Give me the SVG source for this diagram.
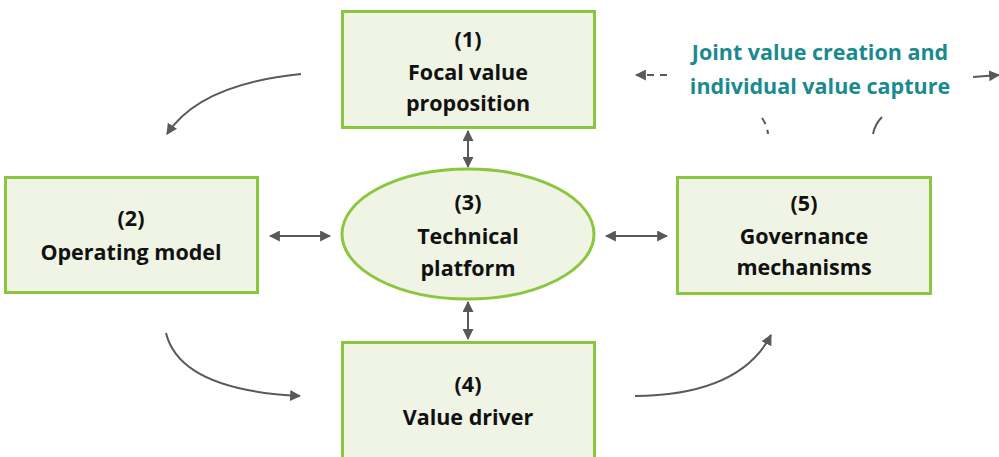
<svg xmlns="http://www.w3.org/2000/svg" width="999" height="457" viewBox="0 0 999 457">
  <style>
    .node { fill: #eff4e5; stroke: #8cc63f; stroke-width: 3; }
    .label { font-family: "Open Sans", "Liberation Sans", sans-serif; font-weight: bold; font-size: 21.5px; fill: #111; text-anchor: middle; }
    .note { font-family: "Open Sans", "Liberation Sans", sans-serif; font-weight: bold; font-size: 21.5px; fill: #1b8a90; text-anchor: middle; }
    .link { fill: none; stroke: #595959; stroke-width: 2; }
    .dash { fill: none; stroke: #595959; stroke-width: 2; stroke-dasharray: 7 6; }
  </style>
  <defs>
    <marker id="head" viewBox="0 0 10 10" refX="9" refY="5" markerWidth="5.5" markerHeight="5.5" orient="auto-start-reverse" markerUnits="strokeWidth">
      <path d="M0,0 L10,5 L0,10 z" fill="#595959"/>
    </marker>
  </defs>

  <!-- connectors -->
  <g id="connectors">
    <!-- double arrows around the platform -->
    <line class="link" x1="468" y1="131" x2="468" y2="167" marker-start="url(#head)" marker-end="url(#head)"/>
    <line class="link" x1="468" y1="302" x2="468" y2="339" marker-start="url(#head)" marker-end="url(#head)"/>
    <line class="link" x1="270" y1="236" x2="330" y2="236" marker-start="url(#head)" marker-end="url(#head)"/>
    <line class="link" x1="606" y1="236" x2="667" y2="236" marker-start="url(#head)" marker-end="url(#head)"/>
    <!-- cycle arrows -->
    <path class="link" d="M301,74 Q200,84 167,134" marker-end="url(#head)"/>
    <path class="link" d="M166,333 Q180,390 300,396" marker-end="url(#head)"/>
    <path class="link" d="M635,396 Q740,395 771,335" marker-end="url(#head)"/>
    <!-- joint value loop fragments -->
    <path class="dash" d="M667,75 L636,75" marker-end="url(#head)"/>
    <path class="dash" d="M762,118 Q767,125 768,134"/>
    <path class="link" d="M873,134 Q875,124 882,117"/>
    <path class="link" d="M973,77 L999,75" marker-end="url(#head)"/>
  </g>

  <!-- (1) focal value proposition -->
  <g id="node1">
    <rect class="node" x="342.5" y="11.5" width="252" height="116"/>
    <text class="label" x="468" y="47">(1)</text>
    <text class="label" x="468" y="80">Focal value</text>
    <text class="label" x="468" y="111">proposition</text>
  </g>

  <!-- (2) operating model -->
  <g id="node2">
    <rect class="node" x="5.5" y="177.5" width="252" height="115"/>
    <text class="label" x="131" y="226">(2)</text>
    <text class="label" x="131" y="260">Operating model</text>
  </g>

  <!-- (3) technical platform -->
  <g id="node3">
    <ellipse class="node" cx="468" cy="234" rx="126" ry="65"/>
    <text class="label" x="468" y="210">(3)</text>
    <text class="label" x="468" y="244">Technical</text>
    <text class="label" x="468" y="276">platform</text>
  </g>

  <!-- (4) value driver -->
  <g id="node4">
    <rect class="node" x="342.5" y="342.5" width="252" height="130"/>
    <text class="label" x="468" y="392">(4)</text>
    <text class="label" x="468" y="425">Value driver</text>
  </g>

  <!-- (5) governance mechanisms -->
  <g id="node5">
    <rect class="node" x="677.5" y="177.5" width="253" height="116"/>
    <text class="label" x="804" y="211">(5)</text>
    <text class="label" x="804" y="244">Governance</text>
    <text class="label" x="804" y="275">mechanisms</text>
  </g>

  <!-- loop caption -->
  <g id="caption">
    <text class="note" x="820" y="60">Joint value creation and</text>
    <text class="note" x="820" y="94">individual value capture</text>
  </g>
</svg>
